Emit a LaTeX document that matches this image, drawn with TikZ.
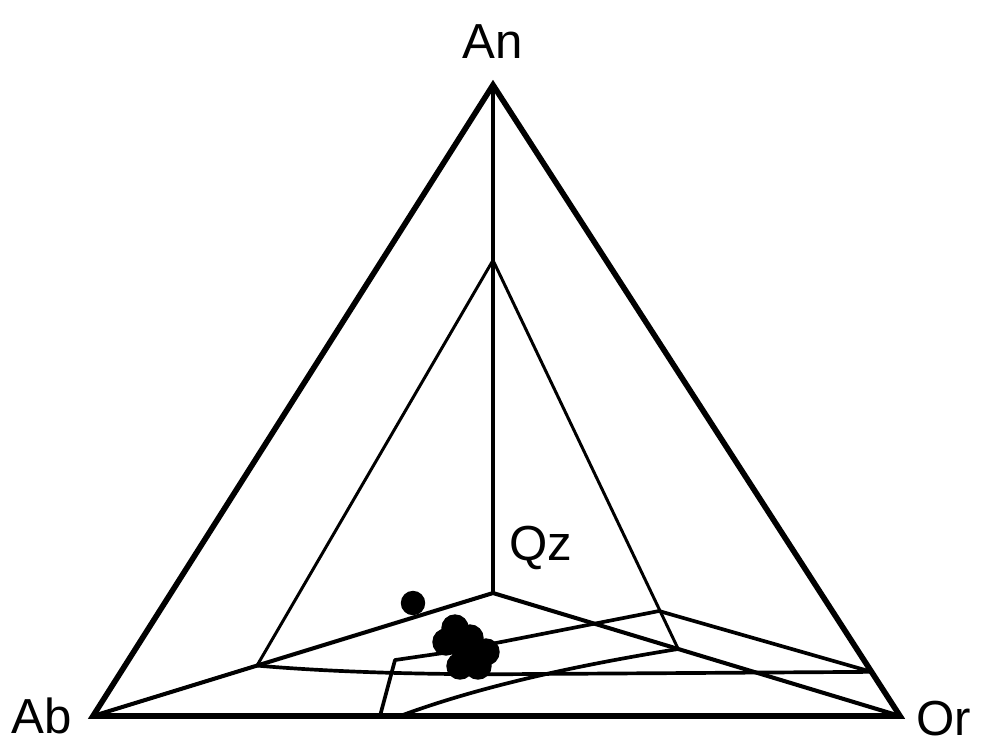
\documentclass[tikz,border=0pt]{standalone}
\usepackage{fontspec}
\setmainfont{Liberation Sans}
\usepackage{tikz}
\usetikzlibrary{calc}

\begin{document}
\begin{tikzpicture}[
  x=0.1mm, y=-0.1mm,
  apexlbl/.style={font=\fontsize{14}{16}\selectfont, inner sep=0pt},
  edge/.style={line width=1.6pt, line join=miter},
  plane/.style={line width=1.15pt},
  thin/.style={line width=0.85pt},
  bound/.style={line width=1.05pt, line join=round},
  sample/.style={fill=black, draw=black, line width=0.4pt},
]
\useasboundingbox (0,0) rectangle (984,746);

%% --- Corners of the tetrahedron ---
\coordinate (an) at (493,85);
\coordinate (ab) at (93,716);
\coordinate (or) at (900,716);
\coordinate (qz) at (493,593);

%% --- Inner surface corners ---
\coordinate (top)   at ($(an)!0.345!(qz)$);
\coordinate (left)  at ($(ab)!0.41!(qz)$);
\coordinate (right) at ($(qz)!0.455!(or)$);
\coordinate (rim)   at ($(or)!0.07!(an)$);
\coordinate (foot)  at (380,716);
\coordinate (root)  at (400,716);
\coordinate (kinkA) at (395,660);
\coordinate (kinkB) at (450,652);
\coordinate (kinkC) at (659,611);

%% --- Labels ---
\node[apexlbl] (anlbl) at (493,42)  {An};
\node[apexlbl] (ablbl) at (42,716)  {Ab};
\node[apexlbl] (orlbl) at (944,719) {Or};
\node[apexlbl] (qzlbl) at (541,548) {Qz};

%% --- Outer triangle ---
\draw[edge] (ab) -- (an) -- (or) -- cycle;
\draw[plane] (an) -- (qz);
\draw[plane] (ab) -- (qz) -- (or);

%% --- Inner triangle ---
\draw[thin] (left) -- (top) -- (right);

%% --- Boundaries ---
\draw[bound] (left) .. controls (330,672) and (430,675) .. (530,674) -- (rim);
\draw[bound] (foot) -- (kinkA) -- (kinkB) -- (kinkC) -- (rim);
\draw[bound] (root) .. controls (470,690) and (560,668) .. (right);

%% --- Samples ---
\fill[sample] (413,603) circle (11.5);
\foreach \px/\py in {455/628, 446/642, 470/638, 486/652, 478/666, 460/666, 466/652, 462/645}
  \fill[sample] (\px,\py) circle (13);

\end{tikzpicture}
\end{document}
